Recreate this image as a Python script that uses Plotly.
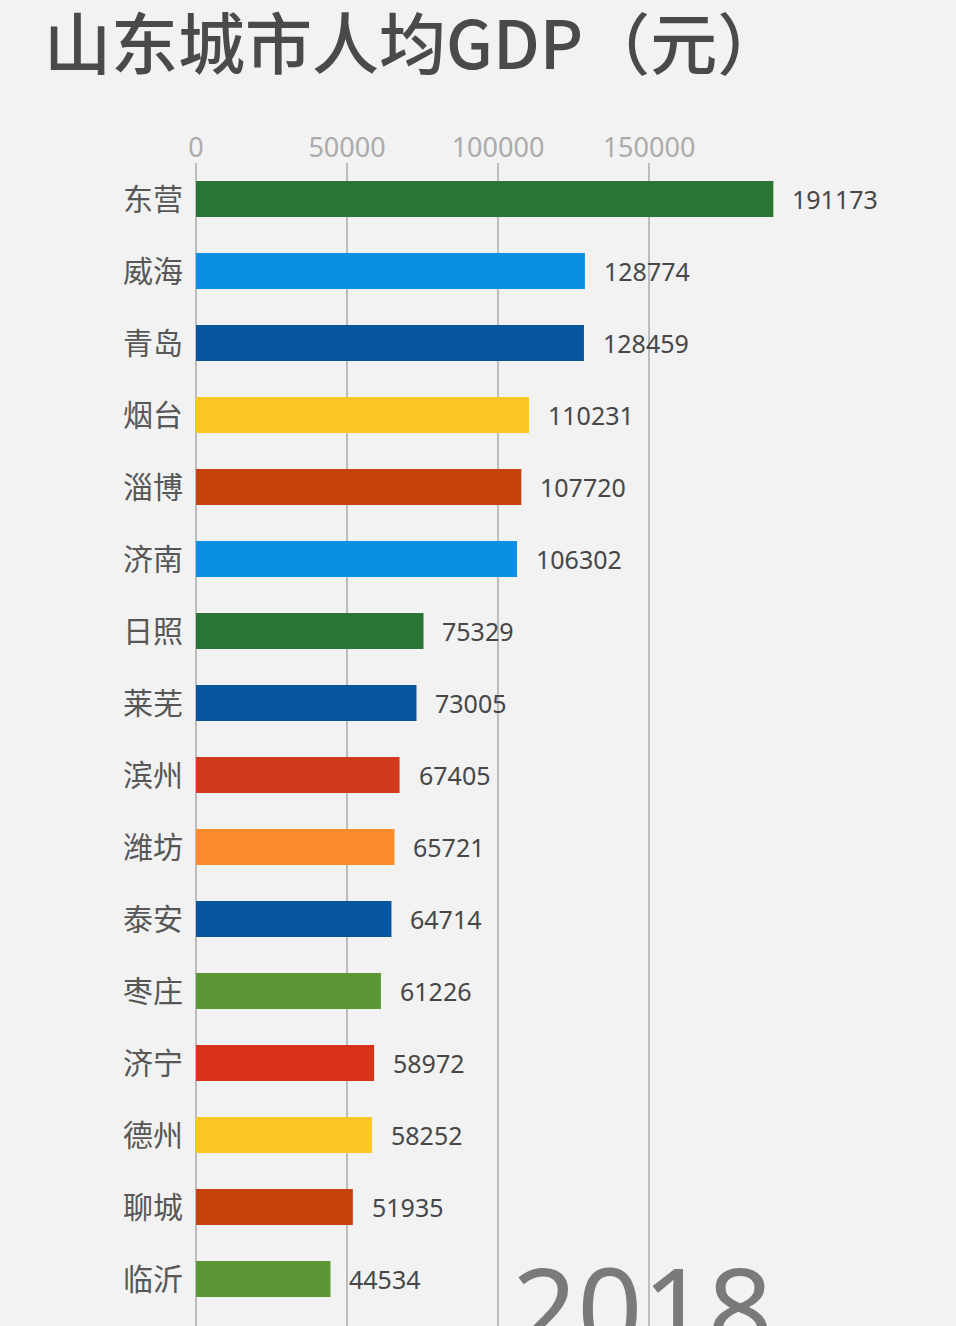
import plotly.graph_objects as go

cities = ["东营", "威海", "青岛", "烟台", "淄博", "济南", "日照", "莱芜",
          "滨州", "潍坊", "泰安", "枣庄", "济宁", "德州", "聊城", "临沂"]
values = [191173, 128774, 128459, 110231, 107720, 106302, 75329, 73005,
          67405, 65721, 64714, 61226, 58972, 58252, 51935, 44534]
colors = ["#2a7434", "#0a8fe2", "#06559e", "#fcc622", "#c8400c", "#0a8fe2",
          "#2a7434", "#06559e", "#d2381b", "#fb8a2a", "#06559e", "#5b9735",
          "#d8321a", "#fcc622", "#c8400c", "#5b9735"]
xticks = [0, 50000, 100000, 150000]
title_text = "山东城市人均GDP（元）"
year = "2018"

W, H = 956, 1326
left, top = 196, 163
px_per_unit = 151 / 50000
plot_w = W - left
plot_h = H - top
xmax = plot_w / px_per_unit
n = len(cities)
band = 72
ymax_band = plot_h / band

fig = go.Figure()
fig.add_trace(go.Bar(
    x=values, y=list(range(n)), orientation="h",
    marker=dict(color=colors, line=dict(width=0)),
    width=0.5, showlegend=False, hoverinfo="skip",
))

for i, v in enumerate(values):
    fig.add_annotation(
        x=v, y=i, xref="x", yref="y", text=str(v), showarrow=False,
        xanchor="left", yanchor="middle", xshift=17,
        font=dict(family="Noto Sans", size=25, color="#474747"),
    )

# year label, partly below the visible page as in the reference
fig.add_annotation(
    x=(510 - left) / plot_w, y=(H - 1226) / plot_h, xref="paper", yref="paper",
    text=year, showarrow=False, xanchor="left", yanchor="top",
    font=dict(family="Noto Sans", size=114, color="#7a7a7a"),
)

fig.update_layout(
    width=W, height=H,
    margin=dict(l=left, r=0, t=top, b=0),
    paper_bgcolor="#f1f2f1", plot_bgcolor="rgba(0,0,0,0)",
    title=dict(text=title_text, x=44 / W, xanchor="left", xref="container",
               y=1 - 46 / H, yanchor="middle", yref="container",
               font=dict(family="Noto Sans CJK SC", size=67, color="#4a4a4a",
                         weight=500)),
    bargap=0.5,
)
fig.update_xaxes(
    range=[0, xmax], side="top", tickvals=xticks, ticktext=[str(t) for t in xticks],
    showgrid=True, gridcolor="#bdbdbd", gridwidth=2,
    zeroline=True, zerolinecolor="#bdbdbd", zerolinewidth=2,
    ticks="", ticklabelstandoff=0,
    tickfont=dict(family="Noto Sans", size=27, color="#ababab"),
    fixedrange=True,
)
fig.update_yaxes(
    range=[-0.5 + ymax_band, -0.5], tickvals=list(range(n)), ticktext=cities,
    showgrid=False, zeroline=False, ticks="", ticklabelstandoff=12,
    tickfont=dict(family="Noto Sans CJK SC", size=30, color="#575757"),
    fixedrange=True,
)

fig.write_html("out.html", config={"displayModeBar": False})
